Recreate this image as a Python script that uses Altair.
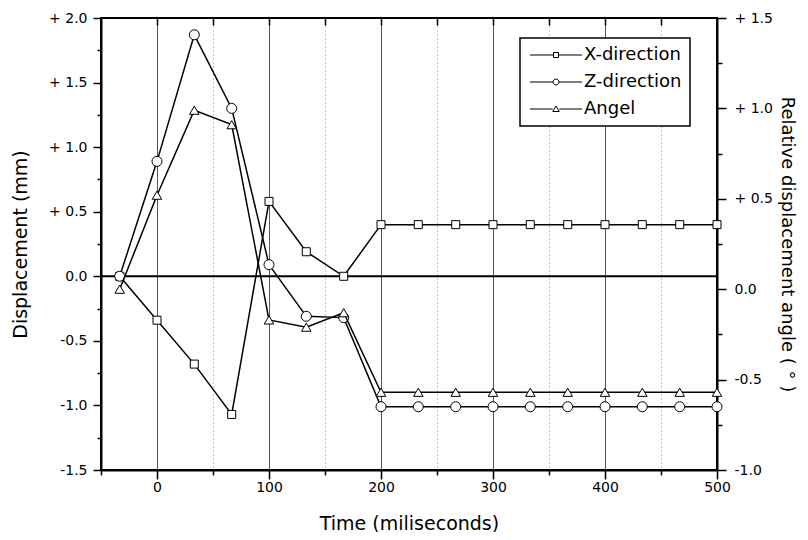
import altair as alt
import pandas as pd

# ---------------- data ----------------
time_ms = [-33.3, 0, 33.3, 66.7, 100, 133.3, 166.7, 200, 233.3, 266.7,
           300, 333.3, 366.7, 400, 433.3, 466.7, 500]
x_direction = [0.0, -0.34, -0.68, -1.07, 0.58, 0.19, 0.0, 0.40, 0.40, 0.40,
               0.40, 0.40, 0.40, 0.40, 0.40, 0.40, 0.40]
z_direction = [0.0, 0.89, 1.87, 1.30, 0.09, -0.31, -0.32, -1.01, -1.01, -1.01,
               -1.01, -1.01, -1.01, -1.01, -1.01, -1.01, -1.01]
angle_deg = [0.0, 0.52, 0.99, 0.91, -0.17, -0.21, -0.13, -0.57, -0.57, -0.57,
             -0.57, -0.57, -0.57, -0.57, -0.57, -0.57, -0.57]
zero_level = [0.0]
series_names = ["X-direction", "Z-direction", "Angel"]

x_tick_values = [-50, 0, 50, 100, 150, 200, 250, 300, 350, 400, 450, 500]
top_tick_values = [0, 50, 100, 150, 200, 250, 300, 350, 400, 450]
left_tick_values = [-1.5, -1.25, -1.0, -0.75, -0.5, -0.25, 0.0, 0.25, 0.5,
                    0.75, 1.0, 1.25, 1.5, 1.75, 2.0]
right_tick_values = [-1.0, -0.75, -0.5, -0.25, 0.0, 0.25, 0.5, 0.75, 1.0,
                     1.25, 1.5]

# legend symbols: a line with a small hollow marker in the middle
legend_paths = [
    "M -5.2 0 L -0.5 0 M 0.5 0 L 5.2 0 M -0.5 -0.5 L 0.5 -0.5 L 0.5 0.5 L -0.5 0.5 Z",
    "M -5.2 0 L -0.6 0 M 0.6 0 L 5.2 0 M -0.6 0 A 0.6 0.6 0 1 0 0.6 0 A 0.6 0.6 0 1 0 -0.6 0 Z",
    "M -5.2 0 L -0.65 0 M 0.65 0 L 5.2 0 M 0 -0.6 L 0.65 0.5 L -0.65 0.5 Z",
]

FONT = "DejaVu Sans"

df_x = pd.DataFrame({"t": time_ms, "v": x_direction})
df_z = pd.DataFrame({"t": time_ms, "v": z_direction})
df_a = pd.DataFrame({"t": time_ms, "v": angle_deg})
df_zero = pd.DataFrame({"v": zero_level})
df_leg = pd.DataFrame({"series": series_names})

MAJ = "abs(datum.value*2 - round(datum.value*2)) < 0.001"
LBL = ("abs(datum.value*2 - round(datum.value*2)) > 0.001 ? '' : "
       "(datum.value > 0.001 ? '+ ' + format(datum.value, '.1f') : "
       "(datum.value < -0.001 ? '-' + format(-datum.value, '.1f') : '0.0'))")

x_scale = alt.Scale(domain=[-50, 500], nice=False, zero=False)

x_bottom = alt.X(
    "t:Q", scale=x_scale,
    axis=alt.Axis(
        values=x_tick_values, grid=True,
        gridDash={"condition": {"test": "datum.value % 100 !== 0", "value": [1, 3]}, "value": []},
        gridColor={"condition": {"test": "datum.value % 100 !== 0", "value": "#8a8a8a"}, "value": "#555555"},
        gridWidth=1,
        tickSize={"condition": {"test": "datum.value % 100 === 0", "value": 9}, "value": 5},
        labelExpr="datum.value % 100 === 0 ? datum.label : ''",
        labelFlush=False, labelOverlap=False, labelPadding=1, labelFontSize=14,
        domainWidth=2, tickWidth=1.5,
        title="Time (miliseconds)", titleFontSize=19, titlePadding=20,
    ),
)

x_top = alt.X(
    "t:Q", scale=x_scale,
    axis=alt.Axis(
        orient="top", values=top_tick_values, labels=False, domain=False,
        grid=False, ticks=True, tickSize=7, offset=-7, tickWidth=1.5, title="",
    ),
)

y_left = alt.Y(
    "v:Q", scale=alt.Scale(domain=[-1.5, 2.0], nice=False, zero=False),
    axis=alt.Axis(
        values=left_tick_values, grid=False, labelExpr=LBL,
        tickSize={"condition": {"test": MAJ, "value": 8}, "value": 4},
        labelPadding=6, labelFontSize=14, labelOverlap=False, labelFlush=False,
        domainWidth=2, tickWidth=1.5,
        title="Displacement (mm)", titleFontSize=19, titlePadding=18,
    ),
)

y_right = alt.Y(
    "v:Q", scale=alt.Scale(domain=[-1.0, 1.5], nice=False, zero=False),
    axis=alt.Axis(
        orient="right", values=right_tick_values, grid=False, labelExpr=LBL,
        tickSize={"condition": {"test": MAJ, "value": 9}, "value": 5},
        labelPadding=8, labelFontSize=14, labelOverlap=False, labelFlush=False,
        domainWidth=2, tickWidth=1.5,
        title="Relative displacement angle ( ° )", titleFontSize=18, titlePadding=5,
    ),
)

zero_rule = alt.Chart(df_zero).mark_rule(color="black", strokeWidth=2).encode(y=y_left)


def line(df, yenc):
    return alt.Chart(df).mark_line(color="black", strokeWidth=1.5).encode(
        x=x_bottom if yenc is y_left else x_top, y=yenc)


def pts(df, yenc, shape, size):
    return alt.Chart(df).mark_point(
        shape=shape, size=size, filled=True, fill="white", stroke="black",
        strokeWidth=1, opacity=1,
    ).encode(x=x_bottom if yenc is y_left else x_top, y=yenc)


# legend driver: its own marks sit outside the drawing; the legend shows the symbols
legend_layer = alt.Chart(df_leg).mark_point(
    size=100, stroke="black", strokeWidth=1, opacity=1,
).encode(
    x=alt.value(-400), y=alt.value(-400),
    shape=alt.Shape(
        "series:N",
        scale=alt.Scale(domain=series_names, range=legend_paths),
        legend=alt.Legend(
            title="", orient="none", legendX=419, legendY=20, padding=8,
            strokeColor="black", fillColor="white",
            symbolSize=100, symbolStrokeColor="black",
            symbolStrokeWidth=1, symbolOffset=19,
            labelOffset=19, labelFont=FONT, labelFontSize=18, labelColor="black",
            rowPadding=9,
        ),
    ),
)

left = alt.layer(
    zero_rule,
    line(df_x, y_left), pts(df_x, y_left, "square", 64),
    line(df_z, y_left), pts(df_z, y_left, "circle", 100),
    legend_layer,
)
right = alt.layer(
    line(df_a, y_right), pts(df_a, y_right, "triangle-up", 90),
)

chart = (
    alt.layer(left, right)
    .resolve_scale(y="independent")
    .resolve_axis(x="independent", y="independent")
    .properties(
        width=616, height=452,
        autosize=alt.AutoSizeParams(type="none"),
        padding={"left": 93, "top": 10, "right": 83, "bottom": 62},
        background="white",
    )
    .configure_view(stroke="black", strokeWidth=2)
    .configure_axis(
        labelFont=FONT, titleFont=FONT, labelColor="black", titleColor="black",
        titleFontWeight="normal", domainColor="black", tickColor="black",
    )
    .configure_legend(strokeWidth=1.5)
)

chart.save("out.html", embed_options={"renderer": "svg", "actions": False})
